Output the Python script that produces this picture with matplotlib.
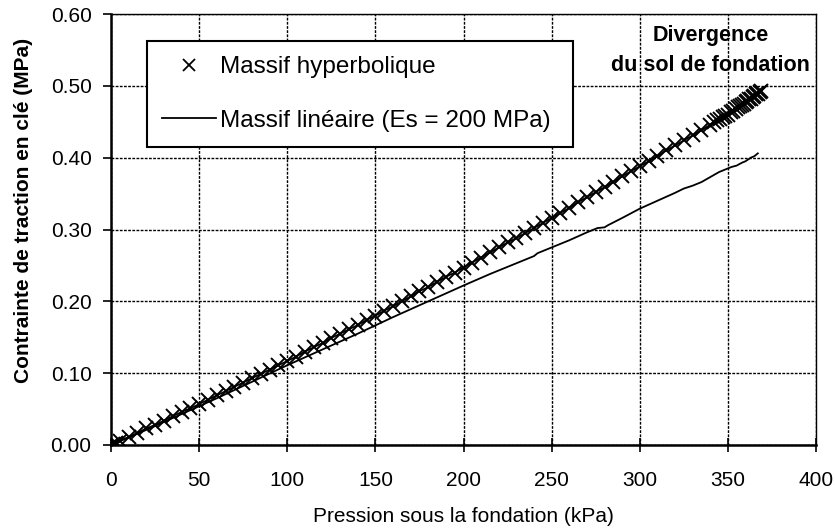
import matplotlib
matplotlib.use("Agg")
import matplotlib.pyplot as plt
from matplotlib.lines import Line2D

plt.rcParams['font.family'] = ['Liberation Sans', 'DejaVu Sans']

# Massif hyperbolique (points x)
x_hyp = [0, 1, 2, 3, 5, 10, 15, 20, 25, 30, 35, 40, 45, 50,
         55, 60, 65, 70, 75, 80, 85, 90, 95, 100,
         105, 110, 115, 120, 125, 130, 135, 140, 145, 150,
         155, 160, 165, 170, 175, 180, 185, 190, 195, 200,
         205, 210, 215, 220, 225, 230, 235, 240, 245, 250,
         255, 260, 265, 270, 275, 280, 285, 290, 295, 300,
         305, 310, 315, 320, 325, 330, 335, 340,
         342, 344, 345.5, 347, 348.5, 350, 351.5, 353, 354.5, 356,
         357, 358, 359, 360, 361, 362, 363, 364, 365, 366, 367, 368, 369]
y_hyp = [0.000, 0.001, 0.002, 0.003, 0.006, 0.011, 0.017, 0.023, 0.028, 0.034, 0.040, 0.046, 0.051, 0.057,
         0.063, 0.069, 0.075, 0.081, 0.087, 0.093, 0.099, 0.105, 0.111, 0.117,
         0.123, 0.130, 0.136, 0.142, 0.149, 0.155, 0.161, 0.167, 0.174, 0.180,
         0.187, 0.193, 0.200, 0.207, 0.214, 0.220, 0.227, 0.234, 0.240, 0.247,
         0.254, 0.261, 0.268, 0.275, 0.282, 0.288, 0.295, 0.302, 0.309, 0.316,
         0.323, 0.330, 0.338, 0.345, 0.352, 0.359, 0.366, 0.374, 0.381, 0.388,
         0.395, 0.402, 0.410, 0.417, 0.424, 0.431, 0.438, 0.446,
         0.449, 0.452, 0.454, 0.456, 0.458, 0.460, 0.463, 0.465, 0.468, 0.470,
         0.472, 0.474, 0.475, 0.477, 0.479, 0.481, 0.482, 0.484, 0.486, 0.488, 0.489, 0.491, 0.493]

# Massif linéaire (Es = 200 MPa)
x_lin = [0, 20, 40, 60, 80, 100, 120, 140, 160, 180, 200, 215, 230, 236, 240, 242,
         250, 260, 270, 276, 280, 282, 290, 300, 310, 320, 325, 330, 335, 340,
         345, 348, 352, 355, 358, 360, 363, 365, 367]
y_lin = [0.000, 0.021, 0.043, 0.065, 0.088, 0.111, 0.133, 0.155, 0.178, 0.200, 0.222, 0.238, 0.253, 0.259, 0.263, 0.267,
         0.275, 0.285, 0.296, 0.302, 0.303, 0.306, 0.316, 0.329, 0.340, 0.351, 0.357, 0.361, 0.366, 0.373,
         0.380, 0.383, 0.387, 0.389, 0.393, 0.395, 0.400, 0.402, 0.406]

x_ticks = [0, 50, 100, 150, 200, 250, 300, 350, 400]
y_ticks = [0.0, 0.1, 0.2, 0.3, 0.4, 0.5, 0.6]

fig = plt.figure(figsize=(8.35, 5.31), dpi=100)
ax = fig.add_axes([111 / 835, 1 - 445 / 531, 705 / 835, 431 / 531])

ax.plot(x_hyp, y_hyp, color='black', lw=1.2, marker='x', ms=9.5, mew=1.4)
ax.plot(x_lin, y_lin, color='black', lw=1.3)

ax.set_xlim(0, 400)
ax.set_ylim(0, 0.6)
ax.set_xticks(x_ticks)
ax.set_yticks(y_ticks)
ax.set_yticklabels(['%.2f' % v for v in y_ticks])
ax.grid(True, color='black', linestyle=(0, (2, 1)), linewidth=1.0)
ax.set_axisbelow(True)

for s in ['left', 'bottom']:
    ax.spines[s].set_linewidth(1.8)
for s in ['top', 'right']:
    ax.spines[s].set_linewidth(1.0)

ax.tick_params(axis='x', direction='inout', length=10, width=1.2, labelsize=15, pad=14)
ax.tick_params(axis='y', direction='out', length=6, width=1.2, labelsize=15, pad=8)

ax.set_xlabel('Pression sous la fondation (kPa)', fontsize=15)
ax.set_ylabel('Contrainte de traction en clé (MPa)', fontsize=15, fontweight='bold')
ax.xaxis.set_label_coords(0.5, -0.145)
ax.yaxis.set_label_coords(-0.110, 0.545)

handles = [Line2D([], [], color='black', marker='x', ms=9, mew=1.3, linestyle='none'),
           Line2D([], [], color='black', lw=1.3)]
labels = ['Massif hyperbolique', 'Massif linéaire (Es = 200 MPa)']
leg = ax.legend(handles, labels, loc='upper left',
                bbox_to_anchor=(36 / 705, 300 / 431, 426 / 705, 104 / 431),
                mode='expand', borderaxespad=0, fontsize=17.5, frameon=True, fancybox=False,
                edgecolor='black', framealpha=1, borderpad=0.62, labelspacing=1.3,
                handlelength=2.2, handletextpad=0.2)
leg.get_frame().set_linewidth(1.5)

ax.text(340, 0.549, 'Divergence\ndu sol de fondation', ha='center', va='center',
        fontsize=15.5, fontweight='bold', linespacing=1.55)

fig.savefig('out.png', dpi=100)
